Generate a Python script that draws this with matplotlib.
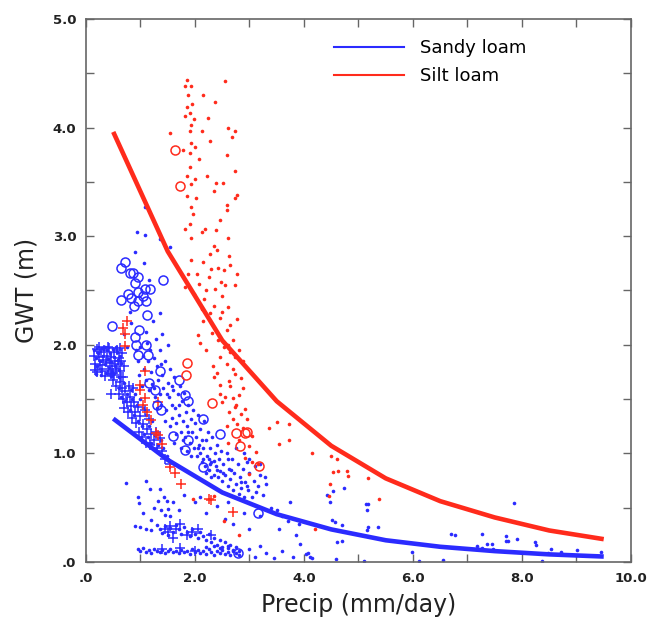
import numpy as np
import matplotlib
matplotlib.use("Agg")
import matplotlib.pyplot as plt
from matplotlib.lines import Line2D
from matplotlib.ticker import FixedLocator, FuncFormatter

plt.rcParams["font.family"] = ["DejaVu Sans"]

BLUE = "#2b2bff"
RED = "#ff2b1c"

# Fitted curves (precip in mm/day, water-table depth in m)
curve_precip = [0.5, 1.5, 2.5, 3.5, 4.5, 5.5, 6.5, 7.5, 8.5, 9.5]
sandy_curve = [1.32, 0.94, 0.64, 0.44, 0.30, 0.20, 0.14, 0.10, 0.07, 0.05]
silt_curve = [3.96, 2.86, 2.04, 1.48, 1.07, 0.77, 0.56, 0.41, 0.29, 0.21]

# Sandy loam samples: (precip, GWT)
sandy_dots = [
    # dense cluster at low precip
    (0.15, 1.95), (0.18, 1.88), (0.20, 1.80), (0.22, 1.92), (0.25, 1.85), (0.27, 1.76),
    (0.30, 1.97), (0.32, 1.90), (0.34, 1.82), (0.36, 1.74), (0.38, 1.95), (0.40, 1.87),
    (0.42, 1.79), (0.44, 1.92), (0.46, 1.84), (0.48, 1.75), (0.50, 1.96), (0.52, 1.89),
    (0.54, 1.80), (0.56, 1.93), (0.58, 1.86), (0.60, 1.77), (0.62, 1.90), (0.64, 1.83),
    (0.28, 1.72), (0.45, 1.71), (0.60, 1.70), (0.19, 1.73), (0.35, 1.98), (0.55, 1.98),
    # lower band
    (0.60, 1.60), (0.65, 1.52), (0.70, 1.65), (0.72, 1.48), (0.76, 1.55), (0.80, 1.40),
    (0.83, 1.58), (0.85, 1.50), (0.88, 1.35), (0.90, 1.55), (0.93, 1.45), (0.96, 1.30),
    (1.00, 1.50), (1.02, 1.25), (1.05, 1.42), (1.07, 1.18), (1.10, 1.35), (1.13, 1.15),
    (1.15, 1.25), (1.20, 1.10), (1.22, 1.30), (1.27, 1.17), (1.32, 1.08), (1.38, 1.12),
    (1.42, 1.05), (1.48, 0.98),
    # upper band
    (0.92, 1.95), (0.95, 1.85), (0.98, 1.72), (1.00, 1.98), (1.02, 1.62), (1.05, 1.90),
    (1.07, 1.78), (1.10, 1.68), (1.12, 2.02), (1.14, 1.85), (1.16, 1.58), (1.18, 1.95),
    (1.20, 1.75), (1.22, 1.64), (1.25, 1.88), (1.27, 1.52), (1.30, 1.80), (1.32, 1.68),
    (1.35, 1.95), (1.37, 1.45), (1.40, 1.72), (1.42, 1.60), (1.45, 1.85), (1.47, 1.40),
    (1.50, 1.65), (1.52, 1.52), (1.55, 1.78), (1.57, 1.33), (1.60, 1.58), (1.30, 1.42),
    (1.38, 1.82), (1.48, 1.55), (1.25, 1.60), (1.58, 1.45), (1.62, 1.70), (1.64, 1.42),
    (1.66, 1.28), (1.68, 1.55), (1.70, 1.35), (1.72, 1.62), (1.74, 1.20), (1.76, 1.48),
    (1.78, 1.30), (1.80, 1.56), (1.82, 1.15), (1.84, 1.38), (1.86, 1.25), (1.88, 1.45),
    (1.90, 1.10), (1.92, 1.32), (1.94, 1.20), (1.96, 1.40), (1.98, 1.05), (2.00, 1.28),
    (1.65, 1.18), (1.75, 1.05), (1.85, 1.02), (1.70, 1.45), (2.02, 1.15), (2.04, 0.98),
    (2.06, 1.35), (2.08, 1.08), (2.10, 1.22), (2.12, 0.92), (2.14, 1.05), (2.16, 1.30),
    (2.18, 0.88), (2.20, 1.12), (2.22, 0.98), (2.24, 1.20), (2.26, 0.85), (2.28, 1.05),
    (2.30, 0.92), (2.32, 1.15), (2.34, 0.80), (2.36, 1.00), (2.38, 0.88), (2.40, 1.08),
    (2.42, 0.78), (2.44, 0.95), (2.46, 0.84), (2.48, 1.02), (2.50, 0.75), (2.10, 1.00),
    (2.20, 0.82), (2.30, 0.78), (2.15, 0.95), (2.35, 0.93), (2.52, 0.90), (2.55, 0.80),
    (2.58, 1.00), (2.60, 0.70), (2.62, 0.86), (2.65, 0.76), (2.68, 0.95), (2.70, 0.66),
    (2.72, 0.82), (2.75, 0.72), (2.78, 0.90), (2.80, 0.63), (2.82, 0.78), (2.85, 0.68),
    (2.88, 0.86), (2.90, 0.60), (2.92, 0.74), (2.95, 0.92), (2.98, 0.66), (3.00, 0.82),
    (3.05, 0.60), (3.08, 0.75), (3.10, 0.88), (3.15, 0.70), (3.20, 0.80), (3.25, 0.62),
    (3.28, 0.78), (3.30, 0.72), (2.60, 0.95), (2.75, 1.05), (2.90, 1.00), (3.00, 0.95),
    (3.20, 0.90), (3.40, 0.50), (3.50, 0.48), (3.60, 0.42), (3.70, 0.38), (3.75, 0.55),
    (3.90, 0.35), (3.55, 0.30), (3.20, 0.42), (3.85, 0.25),
    (1.55, 1.25), (1.62, 1.10), (1.78, 1.12), (1.92, 0.98), (2.05, 1.05), (2.12, 1.12),
    (2.25, 0.95), (2.40, 0.85), (2.52, 0.82), (2.66, 0.85), (2.84, 0.74), (2.96, 0.70),
    (3.12, 0.64), (1.45, 1.30), (1.35, 1.55), (1.58, 1.62), (1.88, 1.20), (2.28, 0.90),
    # sparse points above the band
    (1.08, 3.27), (0.93, 3.04), (1.08, 3.01), (1.36, 2.97), (1.54, 2.90), (0.89, 2.85),
    (1.06, 2.75), (1.35, 2.29), (1.23, 2.22), (0.80, 2.30), (1.15, 2.60), (1.28, 2.05),
    (1.40, 2.10), (1.50, 2.00), (1.10, 2.12), (0.82, 2.20), (0.70, 2.10), (0.75, 1.98),
    # scattered mid-low values
    (0.73, 0.73), (0.96, 0.60), (1.17, 0.67), (1.36, 0.67), (0.98, 0.54), (1.32, 0.56),
    (1.43, 0.60), (1.48, 0.56), (1.51, 0.49), (1.37, 0.48), (1.45, 0.43), (1.54, 0.42),
    (1.20, 0.39), (1.05, 0.45), (1.60, 0.55), (1.70, 0.48), (1.80, 0.62), (2.00, 0.55),
    (2.20, 0.45), (2.40, 0.52), (2.55, 0.40), (2.70, 0.35), (2.90, 0.45), (3.00, 0.30),
    (1.10, 0.75), (1.25, 0.50), (2.10, 0.60), (2.60, 0.55),
    # shallow strip near 0.3 m
    (0.90, 0.33), (1.00, 0.32), (1.10, 0.30), (1.20, 0.29), (1.30, 0.34), (1.35, 0.30),
    (1.40, 0.27), (1.45, 0.33), (1.50, 0.25), (1.55, 0.31), (1.60, 0.28), (1.65, 0.34),
    (1.70, 0.30), (1.75, 0.26), (1.80, 0.32), (1.85, 0.28), (1.90, 0.24), (1.95, 0.30),
    (2.00, 0.26), (2.05, 0.22), (2.10, 0.28), (2.15, 0.24), (2.20, 0.20), (2.25, 0.26),
    (2.30, 0.18), (2.35, 0.22), (2.40, 0.16), (2.45, 0.20), (2.50, 0.14), (2.55, 0.18),
    (2.60, 0.13), (2.65, 0.16), (2.70, 0.11), (2.75, 0.14), (2.80, 0.10),
    # shallow strip near 0.1 m
    (0.95, 0.12), (1.00, 0.10), (1.05, 0.13), (1.10, 0.09), (1.15, 0.11), (1.20, 0.08),
    (1.25, 0.12), (1.30, 0.10), (1.35, 0.09), (1.40, 0.11), (1.45, 0.08), (1.50, 0.10),
    (1.55, 0.12), (1.60, 0.09), (1.65, 0.10), (1.70, 0.08), (1.75, 0.11), (1.80, 0.09),
    (1.85, 0.10), (1.90, 0.07), (1.95, 0.12), (2.00, 0.09), (2.05, 0.11), (2.10, 0.08),
    (2.15, 0.10), (2.20, 0.07), (2.25, 0.12), (2.30, 0.09), (2.35, 0.06), (2.40, 0.10),
    (2.45, 0.08), (2.50, 0.11), (2.55, 0.07), (2.60, 0.09), (2.65, 0.06), (2.70, 0.10),
    (2.75, 0.08), (2.80, 0.06), (2.20, 0.14), (2.45, 0.13), (2.60, 0.15), (2.35, 0.15),
    (3.00, 0.12), (3.10, 0.05), (3.30, 0.08), (3.45, 0.04), (3.60, 0.10), (3.80, 0.05),
    (3.20, 0.15),
    # high precipitation
    (4.73, 0.68), (4.42, 0.62), (4.53, 0.65), (4.48, 0.55), (4.51, 0.39), (4.57, 0.37),
    (4.70, 0.34), (4.60, 0.18), (4.70, 0.19), (4.59, 0.03), (5.14, 0.53), (5.17, 0.53),
    (5.15, 0.48), (5.17, 0.32), (5.15, 0.29), (5.36, 0.32), (5.10, 0.01), (3.93, 0.17),
    (4.03, 0.07), (4.07, 0.08), (4.11, 0.05), (4.15, 0.04), (5.98, 0.09), (6.11, 0.01),
    (6.55, 0.02), (6.70, 0.26), (6.77, 0.25), (7.17, 0.15), (7.27, 0.26), (7.26, 0.13),
    (7.35, 0.17), (7.45, 0.17), (7.47, 0.12), (7.71, 0.24), (7.70, 0.19), (7.75, 0.19),
    (7.85, 0.54), (7.91, 0.21), (8.24, 0.18), (8.26, 0.16), (8.37, 0.01), (8.48, 0.08),
    (8.53, 0.12), (8.72, 0.09), (9.01, 0.11), (9.45, 0.09),
]

sandy_plus = [
    (0.14, 1.90), (0.17, 1.82), (0.20, 1.96), (0.21, 1.75), (0.24, 1.89), (0.26, 1.81),
    (0.28, 1.93), (0.30, 1.78), (0.31, 1.86), (0.33, 1.95), (0.35, 1.71), (0.37, 1.84),
    (0.39, 1.90), (0.41, 1.76), (0.43, 1.97), (0.44, 1.83), (0.46, 1.89), (0.48, 1.80),
    (0.50, 1.74), (0.51, 1.93), (0.53, 1.85), (0.55, 1.78), (0.57, 1.95), (0.58, 1.82),
    (0.60, 1.88), (0.62, 1.97), (0.63, 1.76), (0.65, 1.85), (0.23, 1.98), (0.40, 1.98),
    (0.16, 1.77), (0.45, 1.73), (0.52, 1.72), (0.66, 1.92), (0.68, 1.70), (0.70, 1.80),
    (0.55, 1.62), (0.60, 1.55), (0.62, 1.66), (0.66, 1.60), (0.68, 1.50), (0.70, 1.42),
    (0.72, 1.57), (0.75, 1.47), (0.77, 1.38), (0.80, 1.52), (0.82, 1.44), (0.84, 1.33),
    (0.86, 1.60), (0.88, 1.47), (0.90, 1.38), (0.92, 1.28), (0.95, 1.43), (0.97, 1.20),
    (1.00, 1.34), (1.02, 1.15), (1.05, 1.27), (1.08, 1.40), (1.10, 1.10), (1.12, 1.22),
    (1.15, 1.32), (1.18, 1.08), (1.20, 1.18), (1.25, 1.12), (1.30, 1.05), (1.35, 1.14),
    (1.40, 1.02), (1.45, 0.95), (1.55, 0.90), (0.45, 1.55), (0.50, 1.68), (0.78, 1.62),
    (0.65, 1.70), (1.28, 1.20),
    (1.45, 0.30), (1.50, 0.28), (1.55, 0.33), (1.65, 0.30), (1.72, 0.35), (1.72, 0.13),
    (1.95, 0.28), (2.05, 0.30), (2.30, 0.25), (1.60, 0.22), (1.85, 0.25), (2.00, 0.10),
    (1.40, 0.12),
]

sandy_circles = [
    (0.72, 2.76), (0.65, 2.71), (0.87, 2.66), (0.81, 2.66), (0.96, 2.62), (0.90, 2.57),
    (0.77, 2.47), (0.65, 2.41), (0.82, 2.43), (0.96, 2.49), (1.08, 2.51), (1.18, 2.51),
    (1.04, 2.45), (0.96, 2.40), (0.88, 2.36), (1.10, 2.40), (1.42, 2.60), (1.12, 2.27),
    (0.48, 2.17), (0.98, 2.14), (0.90, 2.07), (0.92, 2.00), (0.95, 1.91), (1.10, 2.00),
    (1.13, 1.91), (1.15, 1.65), (1.27, 1.58), (1.35, 1.76), (1.31, 1.45), (1.38, 1.40),
    (1.71, 1.68), (1.81, 1.54), (1.87, 1.48), (1.60, 1.16), (1.81, 1.03), (1.87, 1.12),
    (2.14, 1.32), (2.45, 1.18), (2.15, 0.87), (3.15, 0.45), (2.79, 0.08),
]

# Silt loam samples: (precip, GWT)
silt_dots = [
    (1.85, 4.44), (1.92, 4.38), (1.81, 4.38), (2.55, 4.43), (2.15, 4.30), (1.88, 4.30),
    (1.95, 4.22), (1.86, 4.19), (1.90, 4.13), (2.36, 4.24), (1.81, 4.11), (2.24, 4.09),
    (1.98, 4.08), (1.93, 4.02), (2.61, 4.00), (1.54, 3.95), (2.73, 3.97), (1.90, 3.97),
    (2.12, 3.97), (2.67, 3.91), (1.92, 3.86), (2.27, 3.88), (2.00, 3.82), (1.78, 3.79),
    (1.90, 3.77), (2.58, 3.75), (2.08, 3.71), (1.90, 3.64), (2.73, 3.60), (1.85, 3.55),
    (2.00, 3.53), (2.38, 3.49), (2.52, 3.49), (1.92, 3.48), (2.35, 3.42), (2.77, 3.38),
    (2.73, 3.35), (1.86, 3.37), (1.92, 3.27), (2.58, 3.29), (1.97, 3.20), (2.58, 3.24),
    (1.90, 3.11), (2.19, 3.07), (2.38, 3.06), (1.81, 3.07), (1.92, 2.98), (2.12, 3.04),
    (2.35, 2.91), (2.40, 2.87), (2.61, 2.98), (2.27, 2.84), (2.63, 2.82), (1.92, 2.78),
    (2.15, 2.76), (2.65, 2.73), (2.42, 2.71), (2.54, 2.69), (2.04, 2.65), (1.87, 2.65),
    (2.77, 2.65), (2.25, 2.62), (2.47, 2.58), (1.81, 2.53), (2.08, 2.56), (2.36, 2.51),
    (2.73, 2.55), (1.98, 2.47), (2.17, 2.42), (2.50, 2.45), (2.35, 2.36), (2.61, 2.35),
    (2.12, 2.33), (2.27, 2.29), (2.77, 2.24), (2.46, 2.25), (2.15, 2.22), (2.65, 2.18),
    (2.58, 2.14), (2.31, 2.11), (2.42, 2.04), (2.69, 2.04), (2.54, 1.98), (2.64, 1.93),
    (2.73, 1.89), (2.46, 1.89), (2.88, 1.85), (2.58, 1.82), (2.69, 1.78), (2.41, 1.74),
    (2.73, 1.73), (2.85, 1.69), (2.62, 1.67), (2.46, 1.63), (2.65, 1.62), (2.88, 1.60),
    (2.81, 1.54), (2.55, 1.52), (2.69, 1.51), (2.50, 1.47), (2.73, 1.43), (2.92, 1.41),
    (2.62, 1.38), (2.85, 1.36), (2.69, 1.32), (2.96, 1.32), (2.77, 1.27), (2.58, 1.25),
    (2.88, 1.23), (3.04, 1.16), (2.81, 1.12), (3.00, 1.07), (3.12, 1.01), (2.92, 0.96),
    (3.04, 0.92), (3.15, 0.90), (3.00, 0.81), (1.96, 0.58), (2.54, 0.38), (2.81, 0.25),
    (2.35, 0.61), (2.06, 2.09), (2.10, 2.02), (2.20, 1.95), (2.33, 1.80), (2.45, 1.55),
    (3.50, 1.29), (3.73, 1.27), (3.73, 1.12), (3.54, 1.09), (3.35, 1.23), (4.15, 1.00),
    (4.49, 0.98), (4.60, 0.95), (4.53, 0.83), (4.62, 0.84), (4.78, 0.84), (4.81, 0.79),
    (4.48, 0.72), (5.17, 0.77), (5.38, 0.58), (4.20, 0.30), (4.46, 0.61),
    (2.02, 3.35), (2.22, 3.55), (2.45, 3.15), (2.30, 2.70), (2.55, 2.55), (2.20, 2.50),
    (2.50, 2.30), (2.60, 2.00), (2.35, 1.70), (2.80, 1.95), (2.75, 1.45), (2.60, 1.10),
]

silt_plus = [
    (0.75, 2.22), (0.67, 2.15), (0.72, 2.10), (0.72, 1.99), (1.08, 1.76), (1.00, 1.63),
    (1.00, 1.58), (1.08, 1.51), (1.33, 1.47), (1.04, 1.45), (1.12, 1.38), (1.19, 1.31),
    (1.28, 1.19), (1.33, 1.17), (1.40, 1.09), (1.54, 0.87), (1.64, 0.82), (1.75, 0.72),
    (2.25, 0.58), (2.29, 0.57), (2.69, 0.46),
]

silt_circles = [
    (1.64, 3.79), (1.72, 3.46), (1.85, 1.83), (1.83, 1.72), (2.31, 1.46), (2.75, 1.19),
    (2.96, 1.20), (2.92, 1.19), (2.83, 1.07), (3.17, 0.88),
]

x_ticks = [0, 1, 2, 3, 4, 5, 6, 7, 8, 9, 10]
x_labels = {0: ".0", 2: "2.0", 4: "4.0", 6: "6.0", 8: "8.0", 10: "10.0"}
y_ticks = [0, 0.5, 1, 1.5, 2, 2.5, 3, 3.5, 4, 4.5, 5]
y_labels = {0: ".0", 1: "1.0", 2: "2.0", 3: "3.0", 4: "4.0", 5: "5.0"}


def xy(points):
    arr = np.asarray(points, dtype=float)
    return arr[:, 0], arr[:, 1]


def tick_text(labels):
    def fmt(v, pos):
        r = round(v)
        if abs(v - r) > 1e-6:
            return ""
        return labels.get(int(r), "")
    return FuncFormatter(fmt)


fig = plt.figure(figsize=(6.57, 6.22), dpi=100)
ax = fig.add_axes([0.1309, 0.0965, 0.8295, 0.873])

# scatter layers
for pts, col in ((sandy_dots, BLUE), (silt_dots, RED)):
    x, y = xy(pts)
    ax.plot(x, y, ls="none", marker="o", ms=2.6, mew=0, color=col, zorder=2)
for pts, col in ((sandy_plus, BLUE), (silt_plus, RED)):
    x, y = xy(pts)
    ax.plot(x, y, ls="none", marker="+", ms=6.5, mew=1.1, color=col, zorder=3)
for pts, col in ((sandy_circles, BLUE), (silt_circles, RED)):
    x, y = xy(pts)
    ax.plot(x, y, ls="none", marker="o", ms=6.5, mew=1.1, mfc="none", mec=col, zorder=3)

# fitted curves
ax.plot(curve_precip, sandy_curve, color=BLUE, lw=3.3, solid_capstyle="butt", zorder=4)
ax.plot(curve_precip, silt_curve, color=RED, lw=3.3, solid_capstyle="butt", zorder=4)

ax.set_xlim(0, 10)
ax.set_ylim(0, 5)

ax.xaxis.set_major_locator(FixedLocator(x_ticks))
ax.yaxis.set_major_locator(FixedLocator(y_ticks))
ax.xaxis.set_major_formatter(tick_text(x_labels))
ax.yaxis.set_major_formatter(tick_text(y_labels))

frame_col = "#666666"
ax.tick_params(axis="both", which="major", direction="in", length=6, width=1.0,
               color=frame_col, top=True, right=True, labelsize=9.5, pad=7,
               labelcolor="#222222")
for lab in ax.get_xticklabels() + ax.get_yticklabels():
    lab.set_fontweight("bold")
for s in ax.spines.values():
    s.set_color(frame_col)
    s.set_linewidth(1.2)

ax.set_xlabel("Precip (mm/day)", fontsize=17, labelpad=6, color="#222222")
ax.set_ylabel("GWT (m)", fontsize=17, labelpad=10, color="#222222")

handles = [Line2D([], [], color=BLUE, lw=1.5), Line2D([], [], color=RED, lw=1.5)]
ax.legend(handles, ["Sandy loam", "Silt loam"], loc="upper left",
          bbox_to_anchor=(0.455, 0.963), frameon=False, fontsize=13,
          handlelength=3.9, handletextpad=0.85, labelspacing=0.55,
          borderpad=0, borderaxespad=0)

fig.savefig("out.png", dpi=100)
